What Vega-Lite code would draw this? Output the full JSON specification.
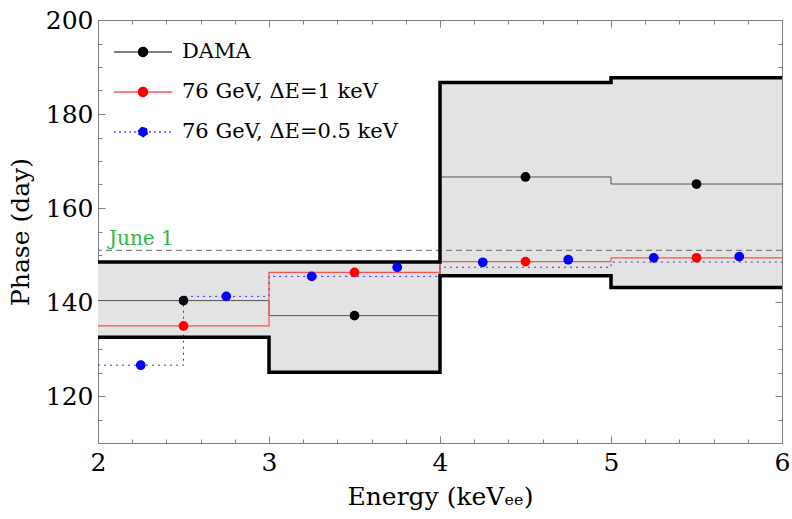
{
  "$schema": "https://vega.github.io/schema/vega-lite/v6.json",
  "width": 684,
  "height": 423,
  "autosize": {"type": "none"},
  "padding": {"left": 98, "top": 20, "right": 10, "bottom": 76},
  "background": "white",
  "config": {
    "font": "DejaVu Serif",
    "view": {"stroke": "#808080", "strokeWidth": 1},
    "axis": {
      "domain": false,
      "grid": false,
      "tickColor": "#808080",
      "tickWidth": 1,
      "labelFont": "DejaVu Serif",
      "titleFont": "DejaVu Serif",
      "labelColor": "black",
      "titleColor": "black",
      "titleFontWeight": "normal",
      "labelFontSize": 25,
      "titleFontSize": 25,
      "labelFlush": false,
      "labelOverlap": false
    }
  },
  "datasets": {
    "band": [
      {"e": 2, "lo": 132.5, "hi": 148.5, "c": 140.3},
      {"e": 3, "lo": 125.05, "hi": 148.5, "c": 137.1},
      {"e": 4, "lo": 145.6, "hi": 186.7, "c": 166.6},
      {"e": 5, "lo": 143.1, "hi": 187.7, "c": 165.1},
      {"e": 6, "lo": 143.1, "hi": 187.7, "c": 165.1}
    ],
    "red": [
      {"e": 2, "v": 134.9},
      {"e": 3, "v": 146.3},
      {"e": 4, "v": 148.6},
      {"e": 5, "v": 149.4},
      {"e": 6, "v": 149.4}
    ],
    "blue": [
      {"e": 2, "v": 126.55},
      {"e": 2.5, "v": 141.2},
      {"e": 3, "v": 145.45},
      {"e": 4, "v": 147.4},
      {"e": 5, "v": 148.5},
      {"e": 6, "v": 148.5}
    ],
    "pts": [
      {"e": 2.5, "v": 140.3, "s": "DAMA"},
      {"e": 3.5, "v": 137.1, "s": "DAMA"},
      {"e": 4.5, "v": 166.6, "s": "DAMA"},
      {"e": 5.5, "v": 165.1, "s": "DAMA"},
      {"e": 2.5, "v": 134.9, "s": "76 GeV, ΔE=1 keV"},
      {"e": 3.5, "v": 146.3, "s": "76 GeV, ΔE=1 keV"},
      {"e": 4.5, "v": 148.6, "s": "76 GeV, ΔE=1 keV"},
      {"e": 5.5, "v": 149.4, "s": "76 GeV, ΔE=1 keV"},
      {"e": 2.25, "v": 126.55, "s": "76 GeV, ΔE=0.5 keV"},
      {"e": 2.75, "v": 141.2, "s": "76 GeV, ΔE=0.5 keV"},
      {"e": 3.25, "v": 145.45, "s": "76 GeV, ΔE=0.5 keV"},
      {"e": 3.75, "v": 147.4, "s": "76 GeV, ΔE=0.5 keV"},
      {"e": 4.25, "v": 148.45, "s": "76 GeV, ΔE=0.5 keV"},
      {"e": 4.75, "v": 149.0, "s": "76 GeV, ΔE=0.5 keV"},
      {"e": 5.25, "v": 149.4, "s": "76 GeV, ΔE=0.5 keV"},
      {"e": 5.75, "v": 149.65, "s": "76 GeV, ΔE=0.5 keV"}
    ],
    "june": [{"e": 2, "v": 151, "label": "June 1"}]
  },
  "layer": [
    {
      "data": {"name": "band"},
      "mark": {"type": "area", "interpolate": "step-after", "color": "#e3e3e3", "clip": true},
      "encoding": {
        "x": {
          "field": "e", "type": "quantitative",
          "scale": {"domain": [2, 6], "nice": false, "zero": false},
          "axis": {"orient": "bottom", "values": [2, 3, 4, 5, 6], "format": "d", "tickSize": -7, "labelPadding": 14, "title": "Energy (keVₑₑ)", "titlePadding": 9}
        },
        "y": {
          "field": "lo", "type": "quantitative",
          "scale": {"domain": [110, 200], "nice": false, "zero": false},
          "axis": {"orient": "left", "values": [120, 140, 160, 180, 200], "format": "d", "tickSize": -7, "labelPadding": 12, "title": "Phase (day)", "titlePadding": 12}
        },
        "y2": {"field": "hi"}
      }
    },
    {
      "data": {"name": "band"},
      "mark": {"type": "line", "interpolate": "step-after", "color": "#555555", "strokeWidth": 1, "clip": true},
      "encoding": {
        "x": {"field": "e", "type": "quantitative", "axis": {"orient": "bottom", "values": [2.2, 2.4, 2.6, 2.8, 3.2, 3.4, 3.6, 3.8, 4.2, 4.4, 4.6, 4.8, 5.2, 5.4, 5.6, 5.8], "tickSize": -4, "labels": false, "title": null}},
        "y": {"field": "c", "type": "quantitative", "axis": {"orient": "left", "values": [115, 125, 130, 135, 145, 150, 155, 165, 170, 175, 185, 190, 195], "tickSize": -4, "labels": false, "title": null}}
      }
    },
    {
      "data": {"name": "red"},
      "mark": {"type": "line", "interpolate": "step-after", "color": "#ff5050", "strokeWidth": 1.2, "clip": true},
      "encoding": {
        "x": {"field": "e", "type": "quantitative", "axis": {"orient": "top", "values": [2, 3, 4, 5, 6], "tickSize": -7, "labels": false, "title": null}},
        "y": {"field": "v", "type": "quantitative", "axis": {"orient": "right", "values": [110, 120, 140, 160, 180, 200], "tickSize": -7, "labels": false, "title": null}}
      }
    },
    {
      "data": {"name": "blue"},
      "mark": {"type": "line", "interpolate": "step-after", "color": "#3333ff", "strokeWidth": 1, "strokeDash": [2, 4], "clip": true},
      "encoding": {
        "x": {"field": "e", "type": "quantitative", "axis": {"orient": "top", "values": [2.2, 2.4, 2.6, 2.8, 3.2, 3.4, 3.6, 3.8, 4.2, 4.4, 4.6, 4.8, 5.2, 5.4, 5.6, 5.8], "tickSize": -4, "labels": false, "title": null}},
        "y": {"field": "v", "type": "quantitative", "axis": {"orient": "right", "values": [115, 125, 130, 135, 145, 150, 155, 165, 170, 175, 185, 190, 195], "tickSize": -4, "labels": false, "title": null}}
      }
    },
    {
      "data": {"name": "june"},
      "mark": {"type": "rule", "color": "#666666", "strokeWidth": 1, "strokeDash": [6, 4]},
      "encoding": {"y": {"field": "v", "type": "quantitative", "axis": null}}
    },
    {
      "data": {"name": "band"},
      "mark": {"type": "line", "interpolate": "step-after", "color": "black", "strokeWidth": 3.5, "clip": true},
      "encoding": {
        "x": {"field": "e", "type": "quantitative", "axis": null},
        "y": {"field": "hi", "type": "quantitative", "axis": null}
      }
    },
    {
      "data": {"name": "band"},
      "mark": {"type": "line", "interpolate": "step-after", "color": "black", "strokeWidth": 3.5, "clip": true},
      "encoding": {
        "x": {"field": "e", "type": "quantitative", "axis": null},
        "y": {"field": "lo", "type": "quantitative", "axis": null}
      }
    },
    {
      "data": {"name": "june"},
      "mark": {"type": "text", "align": "left", "baseline": "alphabetic", "dx": 11, "dy": -5, "font": "DejaVu Serif", "fontSize": 20, "color": "#2db84a"},
      "encoding": {
        "x": {"field": "e", "type": "quantitative", "axis": null},
        "y": {"field": "v", "type": "quantitative", "axis": null},
        "text": {"field": "label"}
      }
    },
    {
      "data": {"name": "pts"},
      "mark": {"type": "point", "filled": true, "size": 95, "opacity": 1, "shape": "circle"},
      "encoding": {
        "x": {"field": "e", "type": "quantitative", "axis": null},
        "y": {"field": "v", "type": "quantitative", "axis": null},
        "color": {
          "field": "s", "type": "nominal",
          "scale": {"domain": ["DAMA", "76 GeV, ΔE=1 keV", "76 GeV, ΔE=0.5 keV"], "range": ["#000000", "#ff0000", "#0000ff"]},
          "legend": {
            "orient": "none",
            "legendX": 15,
            "legendY": 2,
            "title": null,
            "padding": 0,
            "symbolType": "M-1,0L1,0M-0.16,0A0.16,0.16,0,1,1,0.16,0A0.16,0.16,0,1,1,-0.16,0Z",
            "symbolSize": 3364,
            "symbolStrokeWidth": 1.2,
            "symbolOpacity": 1,
            "labelFont": "DejaVu Serif",
            "labelFontSize": 21,
            "labelColor": "black",
            "labelOffset": 9,
            "labelLimit": 400,
            "rowPadding": -18.5,
            "encode": {
              "symbols": {
                "update": {
                  "stroke": {"signal": "scale('color', datum.value)"},
                  "fill": {"signal": "scale('color', datum.value)"},
                  "strokeDash": {"signal": "datum.index === 2 ? [2, 3] : [4, 0]"}
                }
              }
            }
          }
        }
      }
    }
  ],
  "resolve": {"axis": {"x": "independent", "y": "independent"}}
}
